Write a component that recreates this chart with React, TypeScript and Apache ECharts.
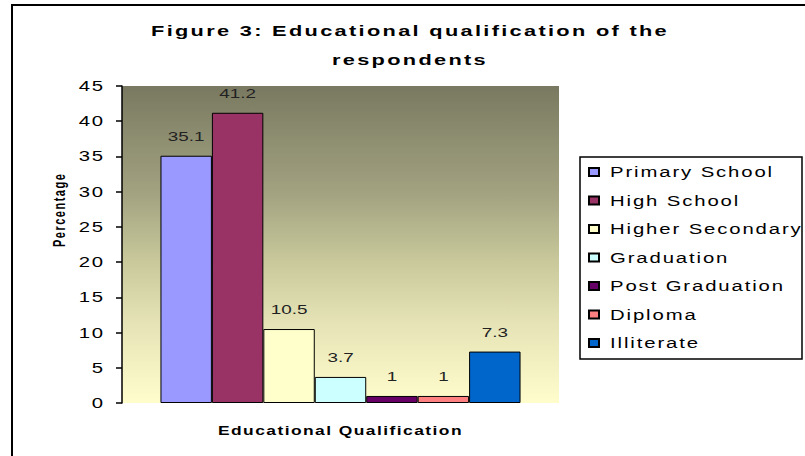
import React, { useEffect, useRef } from "react";
import * as echarts from "echarts";

const categories = ["Educational Qualification"];
const seriesNames = [
  "Primary School",
  "High School",
  "Higher Secondary",
  "Graduation",
  "Post Graduation",
  "Diploma",
  "Illiterate",
];
const seriesValues = [35.1, 41.2, 10.5, 3.7, 1, 1, 7.3];
const seriesColors = [
  "#9999ff",
  "#993366",
  "#ffffcc",
  "#ccffff",
  "#660066",
  "#ff8080",
  "#0066cc",
];
const titleLines = ["Figure 3: Educational qualification of the", "respondents"];
const yAxisTitle = "Percentage";
const xAxisTitle = "Educational Qualification";
const yTicks = { min: 0, max: 45, interval: 5 };

const FONT = "'Liberation Sans', Arial, sans-serif";
const STRETCH = 1.45;

export default function App() {
  const ref = useRef<HTMLDivElement>(null);

  useEffect(() => {
    if (!ref.current) return;
    const chart = echarts.init(ref.current, undefined, { renderer: "svg" });

    const series = seriesNames.map((name, i) => ({
      name,
      type: "bar",
      data: [seriesValues[i]],
      barGap: "0%",
      barCategoryGap: "17.6%",
      itemStyle: { color: seriesColors[i], borderColor: "#000", borderWidth: 1 },
      label: {
        show: true,
        position: "top",
        distance: 13,
        fontSize: 13,
        color: "#222",
        fontFamily: FONT,
      },
    }));

    chart.setOption({
      animation: false,
      grid: {
        left: 122,
        top: 86,
        width: 437,
        height: 317,
        show: true,
        borderWidth: 0,
        backgroundColor: new echarts.graphic.LinearGradient(0, 0, 0, 1, [
          { offset: 0, color: "#797961" },
          { offset: 0.35, color: "#a4a482" },
          { offset: 0.55, color: "#c8c89b" },
          { offset: 0.75, color: "#e6e4b6" },
          { offset: 1, color: "#fffdcc" },
        ]),
      },
      legend: {
        orient: "vertical",
        left: 588,
        top: 165,
        padding: 0,
        itemWidth: 10,
        itemHeight: 8,
        itemGap: 14.5,
        icon: "rect",
        selectedMode: false,
        textStyle: { fontSize: 14, color: "#000", fontFamily: FONT, padding: [0, 0, 0, 6] },
        data: seriesNames,
      },
      xAxis: {
        type: "category",
        data: categories,
        name: xAxisTitle,
        nameLocation: "middle",
        nameGap: 22,
        nameTextStyle: { fontSize: 12, fontWeight: "bold", color: "#000", fontFamily: FONT },
        axisLine: { show: false },
        axisTick: { show: false },
        axisLabel: { show: false },
      },
      yAxis: {
        type: "value",
        min: yTicks.min,
        max: yTicks.max,
        interval: yTicks.interval,
        splitLine: { show: false },
        axisLine: { show: true, lineStyle: { color: "#000", width: 1.5 } },
        axisTick: { show: true, length: 6, lineStyle: { color: "#000", width: 1.5 } },
        axisLabel: { fontSize: 14, color: "#000", margin: 17, fontFamily: FONT },
      },
      graphic: [
        {
          type: "rect",
          shape: { x: 12, y: 5, width: 1000, height: 1000 },
          style: { fill: "none", stroke: "#000", lineWidth: 2 },
          silent: true,
        },
        {
          type: "rect",
          shape: { x: 580, y: 157, width: 222, height: 202 },
          style: { fill: "none", stroke: "#000", lineWidth: 1.5 },
          silent: true,
        },
        {
          type: "text",
          x: 410,
          y: 30,
          style: {
            text: titleLines[0],
            fontSize: 15,
            fontWeight: "bold",
            fill: "#000",
            fontFamily: FONT,
            textAlign: "center",
            textVerticalAlign: "middle",
          },
        },
        {
          type: "text",
          x: 410,
          y: 59,
          style: {
            text: titleLines[1],
            fontSize: 15,
            fontWeight: "bold",
            fill: "#000",
            fontFamily: FONT,
            textAlign: "center",
            textVerticalAlign: "middle",
          },
        },
        {
          type: "text",
          x: 60,
          y: 247,
          rotation: Math.PI / 2,
          scaleY: STRETCH,
          style: {
            text: yAxisTitle,
            fontSize: 11,
            fontWeight: "bold",
            fill: "#000",
            fontFamily: FONT,
            textAlign: "left",
            textVerticalAlign: "middle",
          },
        },
      ],
      series,
    });

    const applySpacing = () => {
      const dom = ref.current;
      if (!dom) return;
      dom.querySelectorAll("text").forEach((t) => {
        if (t.getAttribute("data-sp")) return;
        const fs = parseFloat(getComputedStyle(t).fontSize);
        const content = t.textContent || "";
        let ls = 0;
        let k = STRETCH;
        if (content === yAxisTitle) {
          ls = 1.5;
          k = 1;
        } else if (fs === 15) ls = 1.6;
        else if (fs === 14) ls = 1.3;
        else if (fs === 13) ls = 0;
        else if (fs === 12) ls = 1.0;
        t.setAttribute("data-sp", "1");
        if (ls) t.setAttribute("letter-spacing", ls + "px");
        if (k !== 1) {
          const w = (t as SVGTextElement).getComputedTextLength();
          if (w > 0) {
            t.setAttribute("textLength", String(w * k));
            t.setAttribute("lengthAdjust", "spacingAndGlyphs");
          }
        }
      });
    };
    applySpacing();
    chart.on("finished", applySpacing);
    const tm = setTimeout(applySpacing, 0);

    return () => {
      clearTimeout(tm);
      chart.dispose();
    };
  }, []);

  return (
    <div
      ref={ref}
      style={{ position: "fixed", left: 0, top: 0, width: 805, height: 456, background: "#fff" }}
    />
  );
}
